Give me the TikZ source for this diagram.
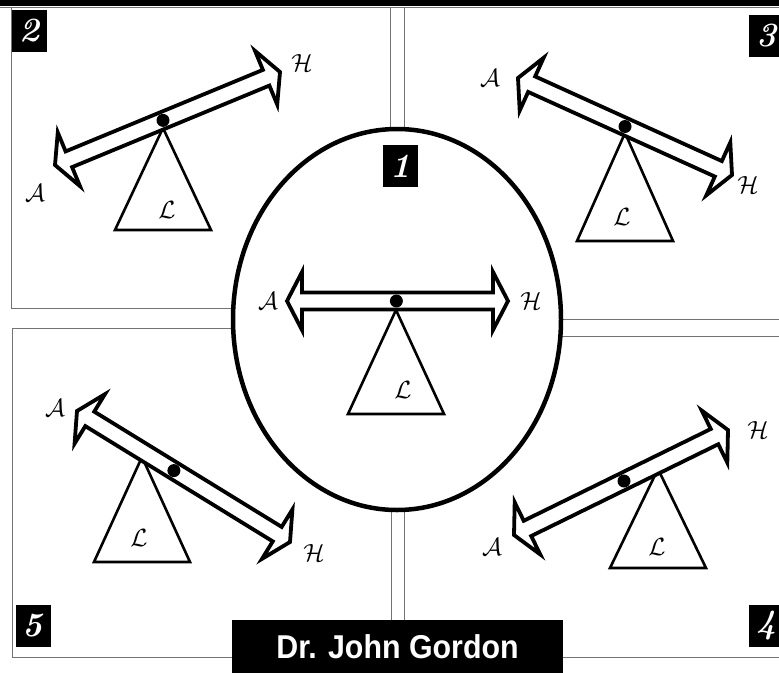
\documentclass[tikz,border=0pt]{standalone}
\usepackage{fontspec}
\newfontfamily\titlefont{Liberation Sans}
\usetikzlibrary{calc}
\providecommand\headlen{15pt}
\providecommand\headwid{29pt}
\providecommand\barwid{8.5pt}
% hollow double arrow from tip #1 to tip #2
\newcommand\beam[2]{%
  \draw[beam] (#1)
    --($(#1)!\headlen!(#2)!\headwid!90:(#2)$)
    --($(#1)!\headlen!(#2)!\barwid!90:(#2)$)
    --($(#2)!\headlen!(#1)!\barwid!-90:(#1)$)
    --($(#2)!\headlen!(#1)!\headwid!-90:(#1)$)
    --(#2)
    --($(#2)!\headlen!(#1)!\headwid!90:(#1)$)
    --($(#2)!\headlen!(#1)!\barwid!90:(#1)$)
    --($(#1)!\headlen!(#2)!\barwid!-90:(#2)$)
    --($(#1)!\headlen!(#2)!\headwid!-90:(#2)$)
    --cycle;}
\newcommand\fulcrum[2]{\draw[stand] (#1)--++(-48,#2)--++(96,0)--cycle;}

\begin{document}
\begin{tikzpicture}[x=1pt,y=-1pt,line join=miter,
  frame/.style={draw=black!55,line width=1pt},
  oval/.style={draw,fill=white,line width=4.5pt},
  beam/.style={draw,fill=white,line width=3.8pt},
  stand/.style={draw,fill=white,line width=2.6pt},
  sym/.style={inner sep=0pt,font=\fontsize{30}{30}\selectfont},
  numbox/.style={fill=black,text=white,minimum width=35pt,minimum height=42pt,
    inner sep=0pt,font=\fontsize{34}{34}\selectfont\bfseries\itshape},
  titlebox/.style={fill=black,text=white,minimum width=331pt,minimum height=54pt,
    inner sep=0pt,font=\titlefont\bfseries\fontsize{33}{33}\selectfont}]
  \clip (0,0) rectangle (779,672);
  \fill (0,0) rectangle (779,6);
  \draw[frame] (0,7)--(779,7);
  % the four corner panels
  \draw[frame] (11,7) rectangle (390,308);
  \draw[frame] (404,7) rectangle (790,319);
  \draw[frame] (12,328) rectangle (391,657);
  \draw[frame] (404,336) rectangle (790,657);
  \draw[oval] (397,319.5) ellipse [x radius=164pt,y radius=190.5pt];
  \node[titlebox] (title) at (397.5,647) {\scalebox{.92}[1]{Dr. John Gordon}};
  \node[numbox] (n1) at (400.5,166) {1};
  \node[numbox] (n2) at (29.5,31) {2};
  \node[numbox] (n3) at (766.5,36) {3};
  \node[numbox] (n4) at (766.5,626) {4};
  \node[numbox] (n5) at (33,626) {5};
  % 1: level
  \coordinate (A1) at (287,301);\coordinate (H1) at (508,301);
  \fulcrum{396,310}{104}
  \beam{A1}{H1}
  \fill ($(A1)!.495!(H1)$) circle (6.5pt);
  \node[sym] (a1) at (268,301) {$\mathcal{A}$};
  \node[sym] (h1) at (531,301) {$\mathcal{H}$};
  \node[sym] (l1) at (403,390) {$\mathcal{L}$};
  % 2: H side up
  \coordinate (A2) at (55,165);\coordinate (H2) at (280,72);
  \fulcrum{163,128}{102}
  \beam{A2}{H2}
  \fill ($(A2)!.48!(H2)$) circle (6.5pt);
  \node[sym] (a2) at (35,193) {$\mathcal{A}$};
  \node[sym] (h2) at (302,63) {$\mathcal{H}$};
  \node[sym] (l2) at (167,210) {$\mathcal{L}$};
  % 3: A side up
  \coordinate (A3) at (518,78);\coordinate (H3) at (732,175);
  \fulcrum{625,133}{108}
  \beam{A3}{H3}
  \fill ($(A3)!.5!(H3)$) circle (6.5pt);
  \node[sym] (a3) at (490,78) {$\mathcal{A}$};
  \node[sym] (h3) at (748,185) {$\mathcal{H}$};
  \node[sym] (l3) at (622,217) {$\mathcal{L}$};
  % 4: pivot moved towards H
  \coordinate (A4) at (514,535);\coordinate (H4) at (728,430);
  \fulcrum{658,469}{99}
  \beam{A4}{H4}
  \fill ($(A4)!.514!(H4)$) circle (6.5pt);
  \node[sym] (a4) at (492,547) {$\mathcal{A}$};
  \node[sym] (h4) at (758,430) {$\mathcal{H}$};
  \node[sym] (l4) at (657,547) {$\mathcal{L}$};
  % 5: pivot moved towards A
  \coordinate (A5) at (77,411);\coordinate (H5) at (290,542);
  \fulcrum{142,457}{105}
  \beam{A5}{H5}
  \fill ($(A5)!.455!(H5)$) circle (6.5pt);
  \node[sym] (a5) at (55,408) {$\mathcal{A}$};
  \node[sym] (h5) at (314,553) {$\mathcal{H}$};
  \node[sym] (l5) at (139,538) {$\mathcal{L}$};
\end{tikzpicture}
\end{document}
